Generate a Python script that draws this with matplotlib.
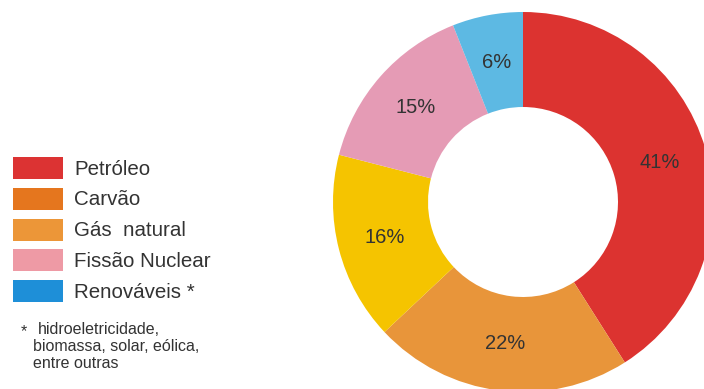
import numpy as np
import matplotlib
matplotlib.use('Agg')
import matplotlib.pyplot as plt
from matplotlib.patches import Rectangle

plt.rcParams['font.family'] = ['Liberation Sans', 'DejaVu Sans']

# data (clockwise from 12 o'clock)
shares = [41, 22, 16, 15, 6]
pie_colors = ['#DC3330', '#E8953A', '#F5C400', '#E59BB5', '#5DB9E3']

legend_labels = ['Petróleo', 'Carvão', 'Gás  natural', 'Fissão Nuclear', 'Renováveis *']
legend_colors = ['#DC3333', '#E5761E', '#EC9638', '#EE9AA5', '#1E8FD8']
footnote = ['hidroeletricidade,', 'biomassa, solar, eólica,', 'entre outras']

W, H = 704, 389
fig = plt.figure(figsize=(W / 100, H / 100), dpi=100)

# donut: centre (523, 202) px, outer radius 190 px -> partly cut off by figure edge
cx, cy, R = 523, 202, 190
ax = fig.add_axes([(cx - R) / W, (H - cy - R) / H, 2 * R / W, 2 * R / H])
wedges, texts, autotexts = ax.pie(
    shares, colors=pie_colors, startangle=90, counterclock=False,
    radius=1.0, autopct='%d%%', pctdistance=0.75,
    wedgeprops=dict(width=0.5, linewidth=0),
    textprops=dict(color='#333333', fontsize=14.5))
ax.set_xlim(-1, 1)
ax.set_ylim(-1, 1)
ax.set_aspect('auto')
ax.axis('off')

# legend drawn in pixel coordinates
lax = fig.add_axes([0, 0, 1, 1], zorder=-1)
lax.set_xlim(0, W)
lax.set_ylim(H, 0)
lax.axis('off')
for i, (lab, col) in enumerate(zip(legend_labels, legend_colors)):
    yc = 168 + i * 30.8
    lax.add_patch(Rectangle((13, yc - 11), 50, 22, facecolor=col, edgecolor='none'))
    lax.text(74, yc + 1, lab, fontsize=14.8, color='#333333', va='center', ha='left')

lax.text(21, 332, '*', fontsize=11.5, color='#333333', va='center', ha='left')
for i, line in enumerate(footnote):
    lax.text(38 if i == 0 else 33, 329 + i * 17.5, line, fontsize=11.5,
             color='#333333', va='center', ha='left')

fig.savefig('out.png', dpi=100)
